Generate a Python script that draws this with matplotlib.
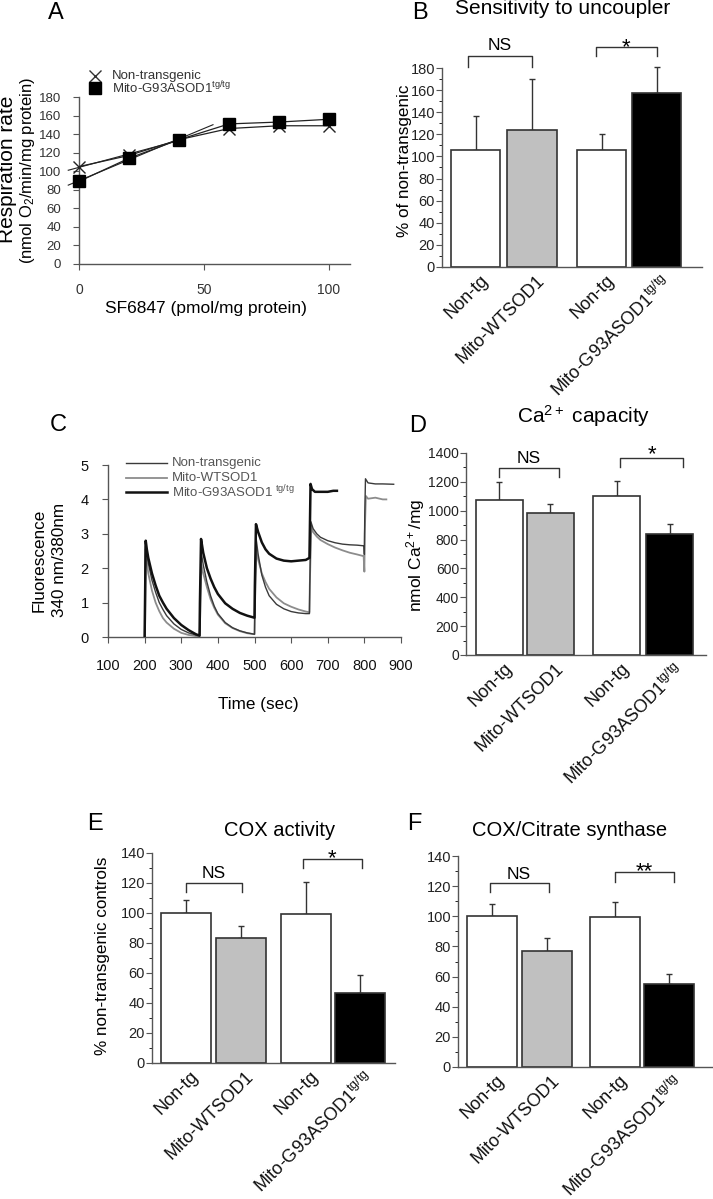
import matplotlib
matplotlib.use('Agg')
import matplotlib.pyplot as plt
import numpy as np
from matplotlib.transforms import ScaledTranslation, blended_transform_factory

plt.rcParams['font.family'] = ['Liberation Sans', 'DejaVu Sans']
plt.rcParams['mathtext.fontset'] = 'custom'
plt.rcParams['mathtext.rm'] = 'Liberation Sans'
plt.rcParams['mathtext.it'] = 'Liberation Sans:italic'
plt.rcParams['mathtext.default'] = 'regular'

# ---------------- DATA ----------------
# Panel A
a_dose = [0, 20, 40, 60, 80, 100]
a_nontg = [105, 117, 134, 146, 149, 149]
a_g93a = [89, 114, 134, 151, 153, 156]

# Bar panels (shared categories)
bar_labels = ['Non-tg', 'Mito-WTSOD1', 'Non-tg', 'Mito-G93ASOD1$^{tg/tg}$']
bar_colors = ['white', '#c0c0c0', 'white', 'black']

b_vals = [106, 124, 106, 157]
b_err = [31, 46, 14, 24]
d_vals = [1072, 984, 1102, 838]
d_err = [125, 62, 102, 72]
e_vals = [100, 83.3, 99.3, 46.7]
e_err = [8.4, 8.3, 21.7, 11.7]
f_vals = [100, 77, 99.3, 54.8]
f_err = [8.4, 8.4, 10.2, 6.6]

# Panel C traces (time s, ratio)
c_nt_t = [200, 202, 205, 210, 220, 230, 240, 250, 260, 280, 300, 320, 340, 350,
          351, 354, 360, 370, 380, 390, 400, 420, 440, 460, 480, 500,
          501, 504, 510, 520, 530, 540, 560, 580, 600, 620, 640, 650,
          651, 654, 660, 670, 680, 700, 720, 740, 760, 780, 799,
          800, 801, 803, 810, 830, 850, 880]
c_nt_v = [0, 2.75, 2.5, 2.15, 1.65, 1.3, 1.0, 0.8, 0.62, 0.38, 0.22, 0.12, 0.06, 0.05,
          0.5, 2.5, 2.1, 1.6, 1.2, 0.9, 0.68, 0.42, 0.27, 0.18, 0.12, 0.08,
          1.0, 2.9, 2.4, 1.8, 1.45, 1.2, 0.95, 0.82, 0.74, 0.7, 0.68, 0.68,
          1.5, 3.35, 3.15, 3.0, 2.9, 2.8, 2.74, 2.7, 2.68, 2.67, 2.65,
          2.4, 3.5, 4.6, 4.48, 4.45, 4.45, 4.44]
c_wt_t = [201, 203, 206, 210, 220, 230, 240, 250, 260, 280, 300, 320, 340, 350,
          351, 355, 360, 370, 380, 390, 400, 420, 440, 460, 480, 500,
          501, 505, 510, 520, 530, 540, 560, 580, 600, 620, 640, 650,
          651, 655, 660, 670, 680, 700, 720, 740, 760, 780, 798,
          800, 801, 804, 810, 830, 850, 860]
c_wt_v = [0, 2.55, 2.2, 1.85, 1.35, 1.0, 0.75, 0.55, 0.42, 0.24, 0.12, 0.06, 0.03, 0.02,
          0.3, 2.1, 1.85, 1.45, 1.1, 0.85, 0.65, 0.4, 0.26, 0.17, 0.11, 0.08,
          0.8, 2.55, 2.25, 1.85, 1.6, 1.4, 1.15, 0.98, 0.88, 0.8, 0.74, 0.72,
          1.5, 3.2, 3.05, 2.92, 2.82, 2.7, 2.6, 2.52, 2.45, 2.4, 2.35,
          1.9, 3.0, 4.1, 4.02, 4.05, 4.0, 4.0]
c_g93_t = [200, 203, 206, 210, 220, 230, 240, 250, 260, 280, 300, 320, 340, 350,
           351, 354, 360, 370, 380, 390, 400, 420, 440, 460, 480, 500,
           501, 504, 510, 520, 530, 540, 560, 580, 600, 620, 640, 650,
           651, 653, 657, 665, 680, 700, 715, 725]
c_g93_v = [0, 2.8, 2.55, 2.3, 1.85, 1.5, 1.2, 1.0, 0.82, 0.55, 0.35, 0.2, 0.08, 0.04,
           1.0, 2.85, 2.45, 2.0, 1.7, 1.45, 1.25, 0.98, 0.82, 0.7, 0.62, 0.56,
           1.5, 3.28, 3.05, 2.75, 2.55, 2.42, 2.28, 2.22, 2.2, 2.22, 2.24, 2.3,
           3.0, 4.45, 4.3, 4.22, 4.22, 4.22, 4.25, 4.25]

# ---------------- LAYOUT ----------------
W, H = 713, 1199
fig = plt.figure(figsize=(W / 100, H / 100), dpi=100)


def fx(x):
    return x / W


def fy(y):
    return 1 - y / H


def add_ax(l, t, r, b):
    return fig.add_axes([l / W, 1 - b / H, (r - l) / W, (b - t) / H])


SP = '#555555'


def style(ax):
    for s in ['top', 'right']:
        ax.spines[s].set_visible(False)
    for s in ['left', 'bottom']:
        ax.spines[s].set_color(SP)
        ax.spines[s].set_linewidth(1.0)
    ax.tick_params(colors=SP, labelcolor='#222222', direction='out')
    ax.patch.set_alpha(0)


def ftext(x, y, s, size, **kw):
    fig.text(fx(x), fy(y), s, fontsize=size, ha=kw.pop('ha', 'center'),
             va=kw.pop('va', 'center'), **kw)


# Panel letters and titles
for L, x, y in [('A', 56, 13), ('B', 420, 13), ('C', 58, 425), ('D', 418, 426),
                ('E', 95, 824), ('F', 414, 824)]:
    ftext(x, y, L, 17)
ftext(563, 9, 'Sensitivity to uncoupler', 15)
ftext(584, 416, 'Ca$^{2+}$ capacity', 15)
ftext(280, 830, 'COX activity', 14.5)
ftext(570, 830, 'COX/Citrate synthase', 14.5)

# ---------------- Panel A ----------------
axA = add_ax(79, 97, 350, 264)
style(axA)
axA.set_xlim(0, 108.4)
axA.set_ylim(0, 180)
axA.set_yticks(range(0, 181, 20))
axA.set_xticks([0, 50, 100])
axA.tick_params(axis='y', length=4, pad=9, labelsize=9.5, labelcolor='#333333')
axA.tick_params(axis='x', length=4, pad=10, labelsize=10, labelcolor='#333333')
lc = '#222222'
axA.plot(a_dose, a_nontg, color=lc, lw=0.9, marker='x', ms=9, mew=1.0, clip_on=False, zorder=3)
axA.plot(a_dose, a_g93a, color=lc, lw=0.9, marker='s', ms=8, mfc='black', mec='black', clip_on=False, zorder=3)
# linear fits of the first three points
p1 = np.polyfit(a_dose[:3], a_g93a[:3], 1)
xx1 = np.array([-4.3, 53.6])
axA.plot(xx1, np.polyval(p1, xx1), color=lc, lw=0.8, clip_on=False)
p2 = np.polyfit(a_dose[:3], a_nontg[:3], 1)
xx2 = np.array([-4.3, 42])
axA.plot(xx2, np.polyval(p2, xx2), color=lc, lw=0.8, clip_on=False)

ftext(8, 169, 'Respiration rate', 15, rotation=90)
ftext(28, 170, '(nmol O$_2$/min/mg protein)', 12, rotation=90)
ftext(206, 308, 'SF6847 (pmol/mg protein)', 12.5)
# legend A
fig.lines.append(plt.Line2D([fx(95)], [fy(76)], marker='x', ms=9, mew=1.0, color='#333333',
                            transform=fig.transFigure))
fig.lines.append(plt.Line2D([fx(95)], [fy(88)], marker='s', ms=8, color='black',
                            transform=fig.transFigure))
ftext(112, 76, 'Non-transgenic', 9.5, ha='left', color='#333333')
ftext(112, 88, 'Mito-G93ASOD1$^{tg/tg}$', 9.5, ha='left', color='#333333')


# ---------------- bar panels ----------------
def bar_panel(ax, pos, vals, errs, xlim, ylim, major, minor, ticksize=10.5):
    style(ax)
    ax.set_xlim(*xlim)
    ax.set_ylim(*ylim)
    ax.bar(pos, vals, width=1.0, color=bar_colors, edgecolor='#333333', linewidth=1.2, zorder=2)
    ax.errorbar(pos, vals, yerr=[np.zeros(len(vals)), errs], fmt='none', ecolor='#333333',
                elinewidth=1.0, capsize=2.5, capthick=1.0, zorder=1, clip_on=False)
    ax.set_xticks([])
    ax.set_yticks(np.arange(ylim[0], ylim[1] + 1, major))
    ax.set_yticks(np.arange(ylim[0], ylim[1] + 1, minor), minor=True)
    ax.tick_params(axis='y', which='major', length=4, pad=1, labelsize=ticksize)
    ax.tick_params(axis='y', which='minor', length=2)
    tr = blended_transform_factory(ax.transData, ax.transAxes)
    for p, lab in zip(pos, bar_labels):
        off = ScaledTranslation(4 / 100, -5 / 100, fig.dpi_scale_trans)
        ax.text(p, 0, lab, transform=tr + off, rotation=45, ha='right', va='top',
                rotation_mode='anchor', fontsize=13, color='#111111')


def bracket(ax, x1, x2, y, yl, yr, text, size, dy_pt):
    ax.plot([x1, x1, x2, x2], [yl, y, y, yr], color='#333333', lw=1.0, clip_on=False)
    ax.annotate(text, xy=((x1 + x2) / 2, y), xytext=(0, dy_pt), textcoords='offset points',
                ha='center', va='baseline', fontsize=size, annotation_clip=False)


# Panel B
axB = add_ax(442, 68, 702, 267)
b_pos = [0, 1.14, 2.55, 3.66]
bar_panel(axB, b_pos, b_vals, b_err, (-0.677, 4.576), (0, 180), 20, 10)
bracket(axB, -0.15, 1.14, 191, 181, 181, 'NS', 12.5, 4.3)
bracket(axB, 2.43, 3.66, 199, 191, 191, '*', 16, -4.3)
ftext(405, 161, '% of non-transgenic', 12.3, rotation=90)

# Panel D
axD = add_ax(466, 453, 706, 655)
d_pos = [0, 1.078, 2.467, 3.583]
bar_panel(axD, d_pos, d_vals, d_err, (-0.70, 4.35), (0, 1400), 200, 100, ticksize=10)
bracket(axD, 0, 1.25, 1294, 1231, 1231, 'NS', 12.5, 4.0)
bracket(axD, 2.55, 3.86, 1367, 1305, 1305, '*', 16, -1.5)
ftext(416, 555, 'nmol Ca$^{2+}$/mg', 12.5, rotation=90)

# Panel E
axE = add_ax(152, 853, 395, 1063)
e_pos = [0, 1.1, 2.40, 3.49]
bar_panel(axE, e_pos, e_vals, e_err, (-0.674, 4.19), (0, 140), 20, 10)
bracket(axE, 0, 1.13, 119.8, 114.2, 114.2, 'NS', 12.5, 3.6)
bracket(axE, 2.35, 3.52, 135.8, 129.8, 129.8, '*', 16, -3.6)
ftext(103, 956, '% non-transgenic controls', 12.3, rotation=90)

# Panel F
axF = add_ax(458, 856, 712, 1067)
f_pos = [0, 1.1, 2.46, 3.54]
bar_panel(axF, f_pos, f_vals, f_err, (-0.68, 4.4), (0, 140), 20, 10)
bracket(axF, -0.05, 1.13, 121.9, 116.3, 116.3, 'NS', 12.5, 3.0)
bracket(axF, 2.45, 3.63, 129.2, 123, 123, '**', 16, -3.6)

# ---------------- Panel C ----------------
axC = add_ax(108, 465, 401, 637)
style(axC)
axC.set_xlim(100, 900)
axC.set_ylim(0, 5)
axC.set_xticks(range(100, 901, 100))
axC.set_yticks(range(0, 6))
axC.tick_params(axis='y', length=4, pad=10, labelsize=10.5, labelcolor='#111111')
axC.tick_params(axis='x', length=4, pad=12, labelsize=10.5, labelcolor='#111111')
axC.plot(c_nt_t, c_nt_v, color='#3a3a3a', lw=1.0, zorder=3)
axC.plot(c_wt_t, c_wt_v, color='#8c8c8c', lw=1.3, zorder=2)
axC.plot(c_g93_t, c_g93_v, color='#111111', lw=1.8, zorder=4)
ftext(39, 560, 'Fluorescence', 12.3, rotation=90)
ftext(60, 560, '340 nm/380nm', 12.3, rotation=90)
ftext(258, 705, 'Time (sec)', 12.3)
for y, col, lw, lab in [(463, '#3a3a3a', 1.0, 'Non-transgenic'),
                        (478, '#8c8c8c', 1.3, 'Mito-WTSOD1'),
                        (492, '#111111', 1.8, 'Mito-G93ASOD1 $^{tg/tg}$')]:
    fig.lines.append(plt.Line2D([fx(126), fx(167)], [fy(y), fy(y)], color=col, lw=lw,
                                transform=fig.transFigure))
    ftext(172, y, lab, 9.5, ha='left', color='#555555')

fig.savefig('out.png', dpi=100)
